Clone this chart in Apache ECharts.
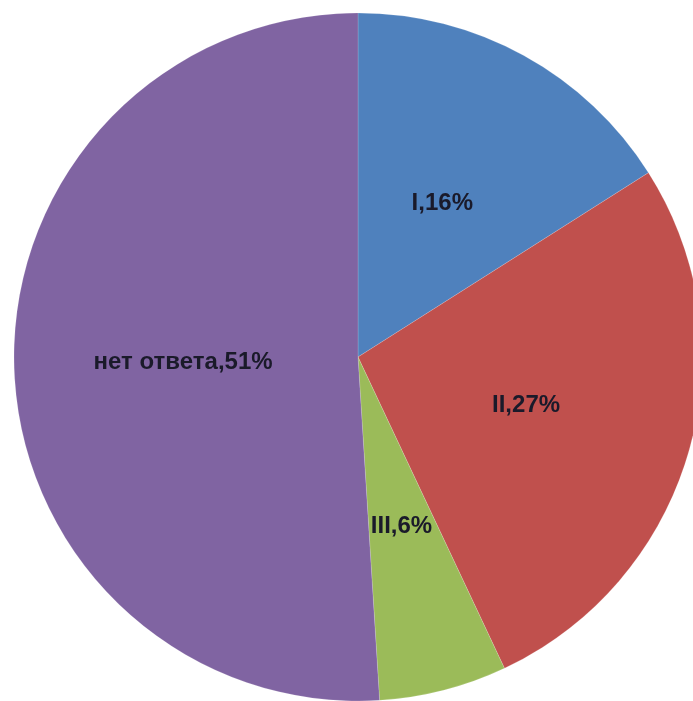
<!DOCTYPE html>
<html><head><meta charset="utf-8">
<script src="https://cdn.jsdelivr.net/npm/echarts@6/dist/echarts.min.js"></script>
<style>html,body{margin:0;padding:0;background:#fff}#c{width:693px;height:701px}</style>
</head><body><div id="c"></div>
<script>
const categories = ['I', 'II', 'III', 'нет ответа'];
const values = [16, 27, 6, 51];
const colors = ['#4F81BD', '#C0504D', '#9BBB59', '#8064A2'];
const chart = echarts.init(document.getElementById('c'));
chart.setOption({
  animation: false,
  series: [{
    type: 'pie',
    center: [358, 357],
    radius: 344,
    startAngle: 90,
    clockwise: true,
    data: categories.map((c, i) => ({name: c, value: values[i], itemStyle: {color: colors[i]}})),
    itemStyle: {borderWidth: 0.5, borderColor: 'rgba(255,255,255,0.3)'},
    label: {
      position: 'inside',
      formatter: p => p.name + ',' + p.value + '%',
      fontFamily: 'Liberation Sans, Arial, sans-serif',
      fontWeight: 'bold',
      fontSize: 24,
      color: '#1a1a2a'
    },
    labelLine: {show: false}
  }]
});
</script></body></html>
